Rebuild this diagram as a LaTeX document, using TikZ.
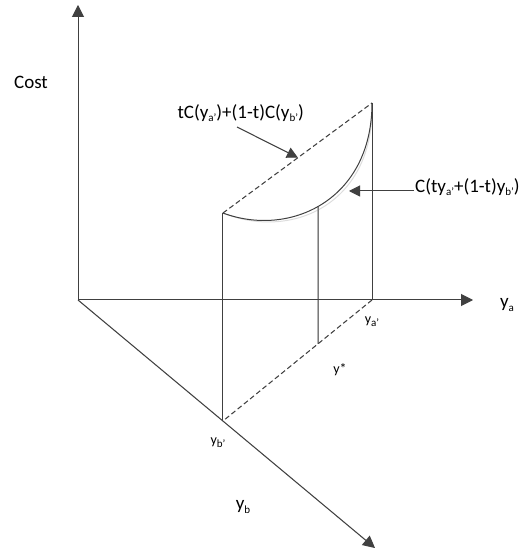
\documentclass[tikz,border=0pt]{standalone}
\usepackage{fontspec}
\setmainfont{Carlito}
\usetikzlibrary{arrows.meta,intersections,calc}
\definecolor{axc}{HTML}{404040}
\definecolor{shc}{HTML}{DDDDDD}
\newcommand\lsub[1]{\raisebox{-0.2em}{\fontsize{11}{11}\selectfont #1}}
\newcommand\figlines{%
  \draw[ln,-{Triangle[length=12pt,width=12pt]}] (O) -- (Vt);
  \draw[ln,-{Triangle[length=12pt,width=12pt]}] (O) -- (Ht);
  \draw[ln,-{Triangle[length=12pt,width=12pt]}] (O) -- (Dt);
  \draw[ln] (Bp) -- (Bt);
  \draw[ln] (Ap) -- (At);
  \draw[ln] (Ys) -- (Yt);
  \draw[ln,dashline] (Bt) -- (At);
  \draw[ln,dashline] (Ap) -- (Bp);
  \draw[ln] (Bt) .. controls (290,317) and (372,355) .. (At);
  \draw[ln,-{Triangle[length=11pt,width=11pt]}] (L1s) -- (L1t);
  \draw[ln,-{Triangle[length=11pt,width=11pt]}] (L2s) -- (L2t);
}
\begin{document}
\begin{tikzpicture}[x=1pt,y=1pt,
  lbl/.style={font=\fontsize{19}{22}\selectfont, inner sep=0pt, text=black},
  dashline/.style={dash pattern=on 5pt off 3pt}]
\useasboundingbox (0,0) rectangle (526,555);
\coordinate (O) at (78,255);
\coordinate (Vt) at (78,550);
\coordinate (Ht) at (473,255);
\coordinate (Dt) at (375,7);
\coordinate (Ap) at (372,255);
\coordinate (Bp) at ($(O)!0.488!(Dt)$);
\coordinate (At) at (372,452);
\coordinate (Bt) at ($(Bp)+(0,208)$);
\coordinate (Ys) at ($(Ap)!0.362!(Bp)$);
\path[name path=crv] (Bt) .. controls (290,317) and (372,355) .. (At);
\path[name path=vl] (Ys) -- ++(0,200);
\path[name intersections={of=crv and vl, by=Yt}];
\coordinate (L1s) at (237,428);
\coordinate (L1t) at ($(Bt)!0.503!(At)$);
\coordinate (L2s) at (414,364);
\coordinate (L2t) at (349,364);
\begin{scope}[shift={(3,-3)}, ln/.style={draw=shc, line width=1pt}]
  \figlines
\end{scope}
\begin{scope}[ln/.style={draw=axc, line width=1pt}]
  \figlines
\end{scope}
\node[lbl] (cost) at (31,473) {Cost};
\node[lbl, anchor=east] (lab1) at (304,442) {tC(y\lsub{a'})+(1-t)C(y\lsub{b'})};
\node[lbl, anchor=west] (lab2) at (415,368) {C(ty\lsub{a'}+(1-t)y\lsub{b'})};
\node[lbl] (ya) at (507,250) {y\lsub{a}};
\node[lbl, font=\fontsize{14}{16}\selectfont] (yap) at (372,233) {y\lsub{a'}};
\node[lbl, font=\fontsize{14}{16}\selectfont] (ystar) at (340,185) {y*};
\node[lbl, font=\fontsize{14}{16}\selectfont] (ybp) at (218,112) {y\lsub{b'}};
\node[lbl] (yb) at (243,48) {y\lsub{b}};
\end{tikzpicture}
\end{document}
